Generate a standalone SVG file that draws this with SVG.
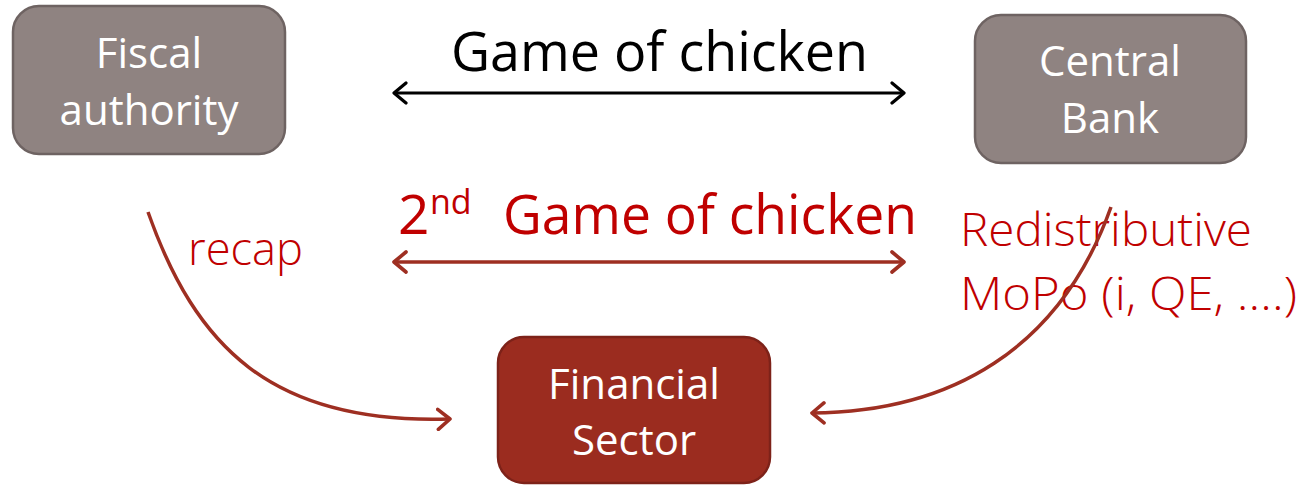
<svg xmlns="http://www.w3.org/2000/svg" width="1313" height="485" viewBox="0 0 1313 485">
<style>
.box{fill:#8f8381;stroke:#6e6362;stroke-width:2.5}
.fin{fill:#9b2c1f;stroke:#7d2219;stroke-width:2.5}
.bt{font-family:"Open Sans","Liberation Sans",sans-serif;font-size:42px;fill:#ffffff;text-anchor:middle}
.title{font-family:"Open Sans","Liberation Sans",sans-serif;font-size:55px}
.lbl{font-family:"Open Sans","Liberation Sans",sans-serif;font-size:46px;font-weight:300;fill:#c00000}
.blk{stroke:#000;stroke-width:3;fill:none}
.red{stroke:#9e2f22;stroke-width:3.5;fill:none}
</style>
<defs>
<marker id="ab" viewBox="0 0 16 24" refX="14" refY="12" markerWidth="16" markerHeight="24" markerUnits="userSpaceOnUse" orient="auto-start-reverse">
<path d="M2,2 L14,12 L2,22" fill="none" stroke="#000" stroke-width="3.2" stroke-linecap="round" stroke-linejoin="round"/>
</marker>
<marker id="ar" viewBox="0 0 16 24" refX="14" refY="12" markerWidth="16" markerHeight="24" markerUnits="userSpaceOnUse" orient="auto-start-reverse">
<path d="M2,2 L14,12 L2,22" fill="none" stroke="#9e2f22" stroke-width="3.6" stroke-linecap="round" stroke-linejoin="round"/>
</marker>
</defs>
<rect width="1313" height="485" fill="#ffffff"/>
<g id="fiscal">
<rect class="box" x="13" y="6" width="272" height="148" rx="26"/>
<text class="bt" x="149" y="68">Fiscal</text>
<text class="bt" x="149" y="125">authority</text>
</g>
<g id="central-bank">
<rect class="box" x="975" y="15" width="271" height="148" rx="26"/>
<text class="bt" x="1110" y="76">Central</text>
<text class="bt" x="1110" y="133">Bank</text>
</g>
<g id="financial-sector">
<rect class="fin" x="498" y="337" width="272" height="146" rx="26"/>
<text class="bt" x="634" y="399">Financial</text>
<text class="bt" x="634" y="455">Sector</text>
</g>
<g id="labels">
<text class="title" x="451" y="71" fill="#000" textLength="417" lengthAdjust="spacingAndGlyphs">Game of chicken</text>
<text class="title" x="398" y="234" fill="#c00000">2</text>
<text font-family="'Open Sans','Liberation Sans',sans-serif" font-size="34" x="430" y="214" fill="#c00000">nd</text>
<text class="title" x="503" y="234" fill="#c00000" textLength="414" lengthAdjust="spacingAndGlyphs">Game of chicken</text>
<text class="lbl" x="188" y="265" textLength="115" lengthAdjust="spacingAndGlyphs">recap</text>
<text class="lbl" x="960" y="246" textLength="292" lengthAdjust="spacingAndGlyphs">Redistributive</text>
<text class="lbl" x="960" y="310" textLength="337" lengthAdjust="spacingAndGlyphs">MoPo (i, QE, ….)</text>
</g>
<g id="connectors">
<line class="blk" x1="394" y1="93" x2="904" y2="93" marker-start="url(#ab)" marker-end="url(#ab)"/>
<line class="red" x1="394" y1="262" x2="904" y2="262" marker-start="url(#ar)" marker-end="url(#ar)"/>
<path class="red" d="M148,212 C195,345 270,425 450,419" marker-end="url(#ar)"/>
<path class="red" d="M1111,207 C1060,350 950,412 812,413" marker-end="url(#ar)"/>
</g>
</svg>
